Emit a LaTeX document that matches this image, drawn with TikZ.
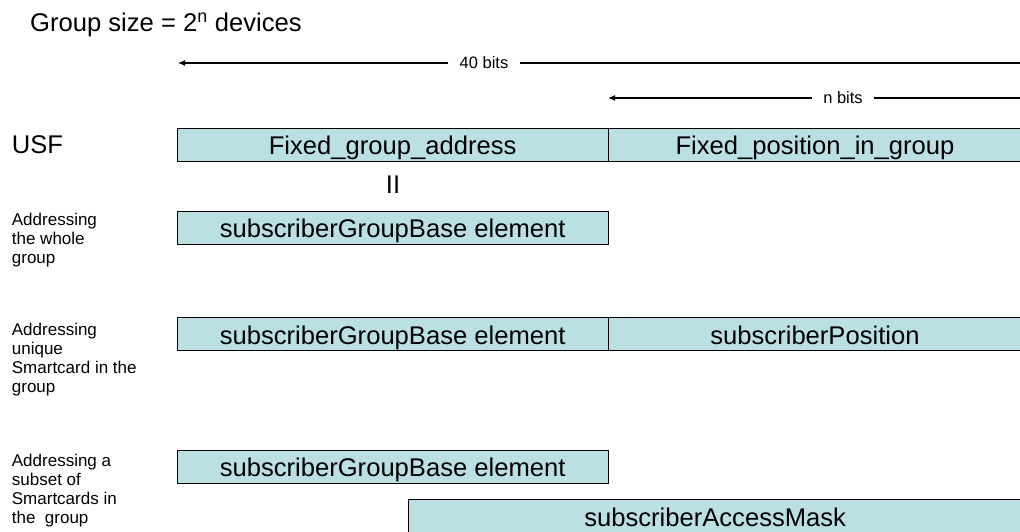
\documentclass[tikz,border=0pt]{standalone}
\usepackage{fontspec}
\setmainfont{Liberation Sans}
\usetikzlibrary{arrows.meta}
\definecolor{boxfill}{RGB}{187,224,228}
\begin{document}
\begin{tikzpicture}[x=1pt,y=-1pt,
  field/.style={draw=black, line width=0.9pt, fill=boxfill, minimum height=33pt,
    inner sep=0pt, font=\fontsize{25.6}{30}\selectfont, text height=20.5pt, text depth=0pt},
  big/.style={inner sep=0pt, font=\fontsize{25.6}{30}\selectfont},
  lbl/.style={align=left, anchor=north west, inner sep=0pt, font=\fontsize{17}{19}\selectfont},
  bitlbl/.style={inner ysep=0pt, inner xsep=11pt, font=\fontsize{16.5}{18}\selectfont},
  dim/.style={line width=1.2pt, draw=black}
]
\useasboundingbox (0,0) rectangle (1020,531);

% title
\node[big, anchor=base west] (title) at (30,31.7) {Group size = 2\textsuperscript{n} devices};

% bit-width arrows
\node[bitlbl] (b40) at (484,63) {40 bits};
\coordinate (b40l) at (178,63);
\coordinate (b40r) at (1024,63);
\draw[dim,-{Latex[length=7pt,width=6pt]}] (b40) -- (b40l);
\draw[dim] (b40) -- (b40r);

\node[bitlbl] (bn) at (843,98) {n bits};
\coordinate (bnl) at (608,98);
\coordinate (bnr) at (1024,98);
\draw[dim,-{Latex[length=7pt,width=6pt]}] (bn) -- (bnl);
\draw[dim] (bn) -- (bnr);

% row labels
\node[big, anchor=base west] (usf) at (11.7,153.3) {USF};
\node[lbl] (l2) at (11.7,212.7) {Addressing\\the whole\\group};
\node[lbl] (l3) at (11.7,322.7) {Addressing\\unique\\Smartcard in the\\group};
\node[lbl] (l4) at (11.7,454.4) {Addressing a\\subset of\\Smartcards in\\the\ \ group};

% USF row
\node[field, minimum width=430.7pt] (fga) at (392.65,144.7) {Fixed\_group\_address};
\node[field, minimum width=414pt] (fpg) at (815,144.7) {Fixed\_position\_in\_group};

\node[big, anchor=base] (eq) at (393,193.5) {II};

% whole group
\node[field, minimum width=430.7pt] (sgb1) at (392.65,227.5) {subscriberGroupBase element};

% unique smartcard
\node[field, minimum width=430.7pt] (sgb2) at (392.65,334.3) {subscriberGroupBase element};
\node[field, minimum width=414pt] (spos) at (815,334.3) {subscriberPosition};

% subset
\node[field, minimum width=430.7pt] (sgb3) at (392.65,466.5) {subscriberGroupBase element};
\node[field, minimum width=613.7pt] (sam) at (715.15,516) {subscriberAccessMask};
\end{tikzpicture}
\end{document}
